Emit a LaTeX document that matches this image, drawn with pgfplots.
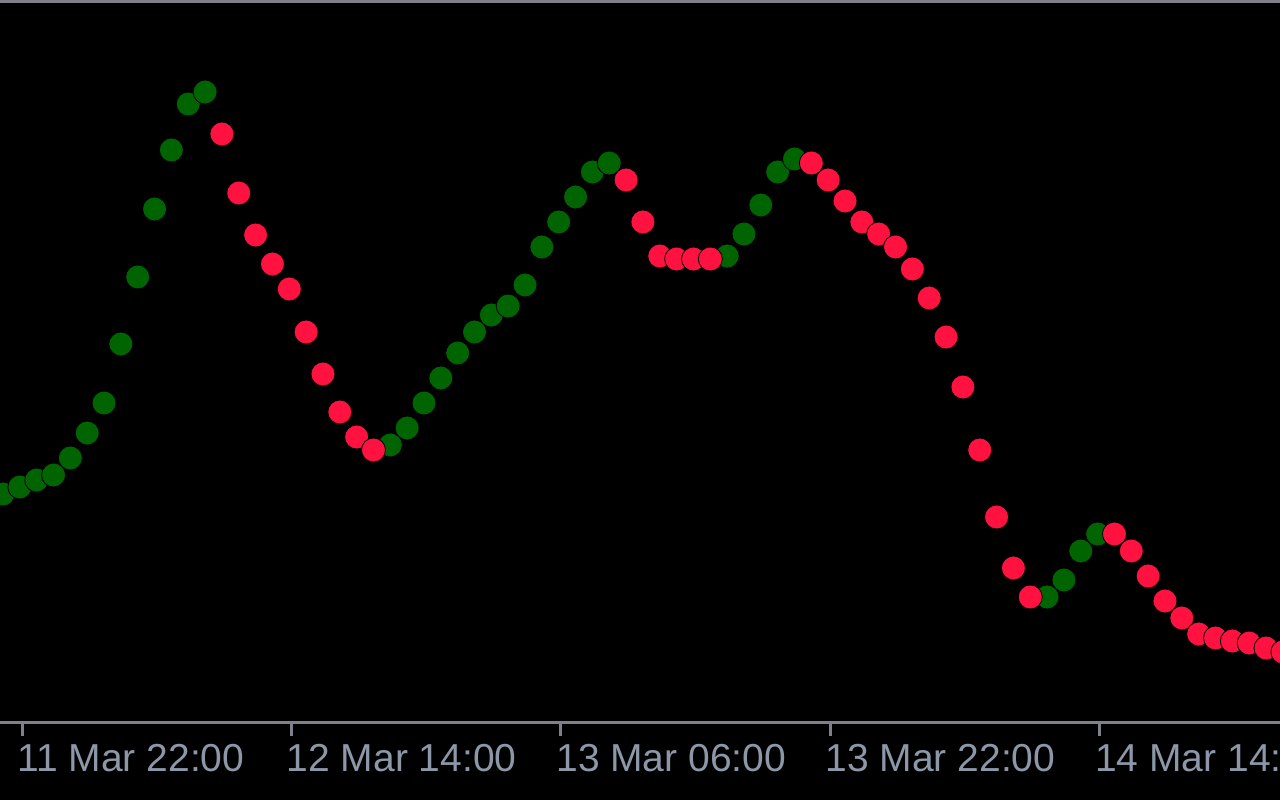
\documentclass[border=0pt]{standalone}
\usepackage{pgfplots}
\pgfplotsset{compat=1.18}
\usepackage{pgfplotstable}
\usepackage{fontspec}
\setmainfont{Liberation Sans}
\definecolor{bull}{RGB}{0,100,0}
\definecolor{bear}{RGB}{255,18,64}
\definecolor{axgray}{RGB}{128,128,140}
\definecolor{lblgray}{RGB}{140,152,168}
\pgfplotstableread{
i v
0 306
1 313
2 320
3 325
4 342
5 367
6 397
7 456
8 523
9 591
10 650
11 696
12 708
23 355
24 372
25 397
26 422
27 447
28 468
29 485
30 494
31 515
32 553
33 578
34 603
35 628
36 637
43 544
44 566
45 595
46 628
47 641
62 203
63 220
64 249
65 266
}\greendata
\pgfplotstableread{
i v
13 666
14 607
15 565
16 536
17 511
18 468
19 426
20 388
21 363
22 350
37 620
38 578
39 544
40 541
41 541
42 541
48 637
49 620
50 599
51 578
52 566
53 553
54 531
55 502
56 463
57 413
58 350
59 283
60 232
61 203
66 266
67 249
68 224
69 199
70 182
71 166
72 162
73 159
74 157
75 152
76 148
}\reddata
\begin{document}
\begin{tikzpicture}[x=0.5pt,y=0.5pt]
\useasboundingbox (0,0) rectangle (1280,800);
\fill[black] (0,0) rectangle (1280,800);
\clip (0,0) rectangle (1280,800);
\draw[axgray, line width=1.5pt] (0,798.5) -- (1280,798.5);
\begin{axis}[
  at={(0,78)}, anchor=south west,
  scale only axis, width=640pt, height=360.25pt,
  xmin=-0.178, xmax=75.83, ymin=78, ymax=798.5,
  clip=false,
  axis y line=none,
  axis x line*=bottom,
  x axis line style={axgray, line width=1.5pt},
  xtick={1.13,17.12,33.13,49.12,65.13},
  xticklabels={11 Mar 22:00,12 Mar 14:00,13 Mar 06:00,13 Mar 22:00,14 Mar 14:00},
  xtick align=outside,
  major tick length=7pt,
  x tick style={axgray, line width=1.5pt},
  xticklabel style={anchor=north west, xshift=-2.5pt, yshift=-4pt, inner sep=0pt,
    font=\fontsize{19.5}{22}\selectfont, text=lblgray},
]
\addplot[only marks, mark=*, mark size=6pt, mark options={draw=none, fill=bull}] table[x=i, y=v] {\greendata};
\addplot[only marks, mark=*, mark size=6pt, mark options={draw=none, fill=bear}] table[x=i, y=v] {\reddata};
\end{axis}
\end{tikzpicture}
\end{document}
